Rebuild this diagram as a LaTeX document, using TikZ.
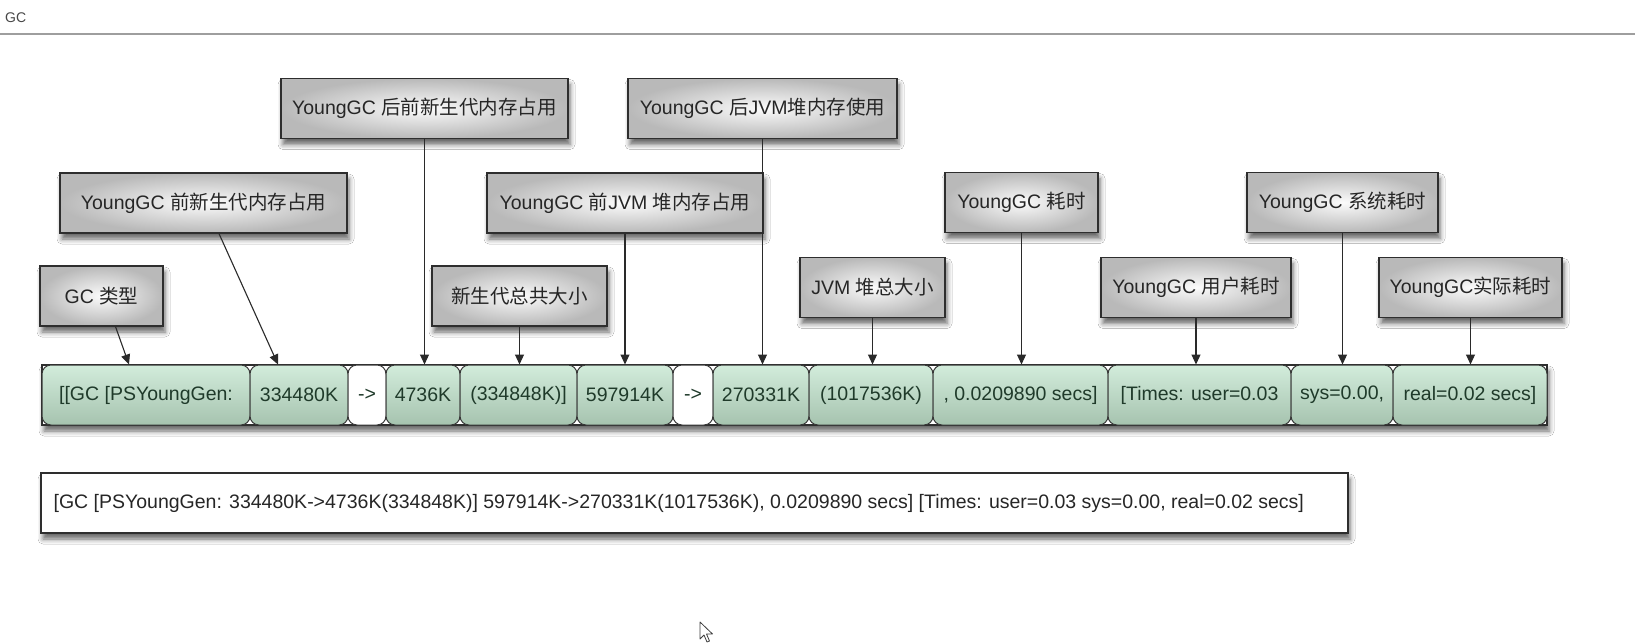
\documentclass[tikz,border=0pt]{standalone}
\usepackage{fontspec}
\setmainfont{Liberation Sans}
\newfontfamily\cjk{Noto Sans CJK SC}
\newcommand{\zhtxt}[1]{{\cjk #1}}
\usetikzlibrary{arrows.meta,shadows,shadows.blur}
\definecolor{boxline}{HTML}{2E2E2E}
\definecolor{boxtext}{HTML}{262626}
\definecolor{cellline}{HTML}{383838}
\definecolor{celltext}{HTML}{1F3A2A}
\definecolor{cellTop}{HTML}{D2ECDB}
\definecolor{cellMid}{HTML}{B9E0C6}
\definecolor{cellBot}{HTML}{A6C3AF}
\definecolor{connline}{HTML}{2A2A2A}
\begin{document}
\begin{tikzpicture}[x=1pt,y=-1pt,
  tbox/.style={draw=boxline, line width=1.2pt, inner color=gray!3, outer color=gray!55,
    minimum height=60pt, inner sep=0pt, text=boxtext,
    font=\fontsize{19.5}{22}\selectfont,
    blur shadow={shadow xshift=2pt, shadow yshift=-6pt, shadow blur radius=5pt, shadow opacity=60}},
  barbg/.style={draw=boxline, line width=1.2pt, fill=white, inner sep=0pt,
    blur shadow={shadow xshift=2pt, shadow yshift=-6pt, shadow blur radius=5pt, shadow opacity=60}},
  cell/.style={draw=cellline, line width=1pt, rounded corners=9pt, minimum height=60pt,
    inner sep=0pt, top color=cellTop, middle color=cellMid, bottom color=cellBot,
    text=celltext, font=\fontsize{19.5}{22}\selectfont},
  wcell/.style={draw=cellline, line width=1pt, rounded corners=9pt, minimum height=60pt,
    inner sep=0pt, fill=white, text=celltext, font=\fontsize{19.5}{22}\selectfont},
  logbox/.style={draw=boxline, line width=1.2pt, fill=white, inner sep=0pt,
    blur shadow={shadow xshift=2pt, shadow yshift=-6pt, shadow blur radius=5pt, shadow opacity=60}},
  conn/.style={draw=connline, line width=1.1pt, -{Triangle[length=10pt,width=9pt]}}
]
\useasboundingbox[fill=white] (0,0) rectangle (1635,643);

% header
\node[anchor=west, inner sep=0pt, text=black!72, font=\fontsize{14}{16}\selectfont] (title) at (5,18) {GC};
\coordinate (hl) at (0,34);
\coordinate (hr) at (1635,34);
\draw[black!38, line width=1.5pt] (hl) -- (hr);

% label boxes
\node[tbox, minimum width=287pt] (B1) at (424.5,108.5) {YoungGC \zhtxt{后前新生代内存占用}};
\node[tbox, minimum width=269pt] (B2) at (762.5,108.5) {YoungGC \zhtxt{后}JVM\zhtxt{堆内存使用}};
\node[tbox, minimum width=287pt] (B3) at (203.5,203) {YoungGC \zhtxt{前新生代内存占用}};
\node[tbox, minimum width=276pt] (B4) at (625,203) {YoungGC \zhtxt{前}JVM \zhtxt{堆内存占用}};
\node[tbox, minimum width=153pt] (B5) at (1021.5,202.5) {YoungGC \zhtxt{耗时}};
\node[tbox, minimum width=191pt] (B6) at (1342.5,202.5) {YoungGC \zhtxt{系统耗时}};
\node[tbox, minimum width=123pt] (B7) at (101.5,296) {GC \zhtxt{类型}};
\node[tbox, minimum width=175pt] (B8) at (519.5,296) {\zhtxt{新生代总共大小}};
\node[tbox, minimum width=145pt] (B9) at (872.5,287.5) {JVM \zhtxt{堆总大小}};
\node[tbox, minimum width=190pt] (B10) at (1196,287.5) {YoungGC \zhtxt{用户耗时}};
\node[tbox, minimum width=183pt] (B11) at (1470.5,287.5) {YoungGC\zhtxt{实际耗时}};

% bar
\node[barbg, minimum width=1505pt, minimum height=60pt] (bar) at (794.5,395) {};
\node[cell,  minimum width=208pt] (c1)  at (146,395)   {[[GC [PSYoungGen:};
\node[cell,  minimum width=98pt]  (c2)  at (299,395)   {334480K};
\node[wcell, minimum width=38pt]  (c3)  at (367,395)   {->};
\node[cell,  minimum width=74pt]  (c4)  at (423,395)   {4736K};
\node[cell,  minimum width=117pt] (c5)  at (518.5,395) {(334848K)]};
\node[cell,  minimum width=96pt]  (c6)  at (625,395)   {597914K};
\node[wcell, minimum width=40pt]  (c7)  at (693,395)   {->};
\node[cell,  minimum width=96pt]  (c8)  at (761,395)   {270331K};
\node[cell,  minimum width=124pt] (c9)  at (871,395)   {(1017536K)};
\node[cell,  minimum width=175pt] (c10) at (1020.5,395) {, 0.0209890 secs]};
\node[cell,  minimum width=183pt] (c11) at (1199.5,395) {[Times: user=0.03};
\node[cell,  minimum width=102pt] (c12) at (1342,395)  {sys=0.00,};
\node[cell,  minimum width=154pt] (c13) at (1470,395)  {real=0.02 secs]};

% connectors
\draw[conn] ([xshift=14pt]B7.south) -- ([xshift=-17pt]c1.north);
\draw[conn] ([xshift=15.5pt]B3.south) -- ([xshift=-21pt]c2.north);
\draw[conn] (B1.south) -- (B1.south |- c4.north);
\draw[conn] (B8.south) -- (B8.south |- c5.north);
\draw[conn] (B4.south) -- (B4.south |- c6.north);
\draw[conn] (B2.south) -- (B2.south |- c8.north);
\draw[conn] (B9.south) -- (B9.south |- c9.north);
\draw[conn] (B5.south) -- (B5.south |- c10.north);
\draw[conn] (B10.south) -- (B10.south |- c11.north);
\draw[conn] (B6.south) -- (B6.south |- c12.north);
\draw[conn] (B11.south) -- (B11.south |- c13.north);

% full log line
\node[logbox, minimum width=1307pt, minimum height=60pt] (log) at (694.5,503) {};
\node[anchor=west, inner sep=0pt, text=boxtext, font=\fontsize{19.5}{22}\selectfont] (logtext) at ([xshift=13pt]log.west)
  {[GC [PSYoungGen: 334480K->4736K(334848K)] 597914K->270331K(1017536K), 0.0209890 secs] [Times: user=0.03 sys=0.00, real=0.02 secs]};

% mouse pointer
\draw[fill=white, draw=black!75, line width=0.8pt, line join=round] (700,622) -- ++(0,17) -- ++(4,-4) -- ++(3,7) -- ++(2.5,-1) -- ++(-3,-7) -- ++(6,0) -- cycle;
\end{tikzpicture}
\end{document}
